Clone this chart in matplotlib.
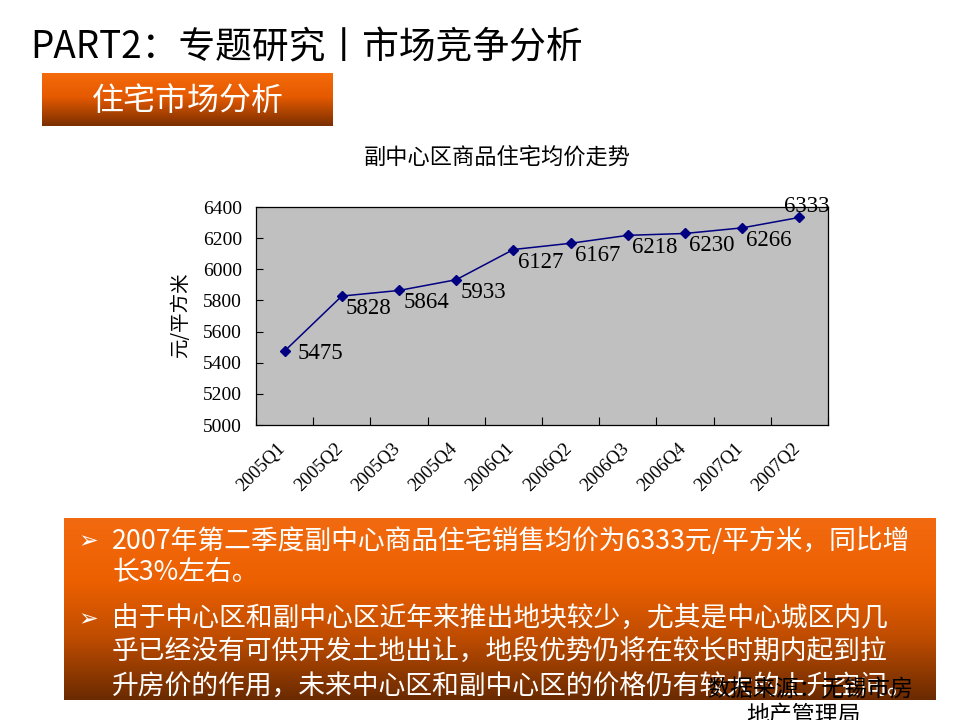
import numpy as np
import matplotlib
matplotlib.use("Agg")
import matplotlib.pyplot as plt
from matplotlib.colors import LinearSegmentedColormap

plt.rcParams['font.family'] = ['Noto Sans CJK SC', 'DejaVu Sans']

quarters = ['2005Q1', '2005Q2', '2005Q3', '2005Q4', '2006Q1',
            '2006Q2', '2006Q3', '2006Q4', '2007Q1', '2007Q2']
prices = [5475, 5828, 5864, 5933, 6127, 6167, 6218, 6230, 6266, 6333]
yticks = [5000, 5200, 5400, 5600, 5800, 6000, 6200, 6400]

bullets = [
    ['2007年第二季度副中心商品住宅销售均价为6333元/平方米，同比增',
     '长3%左右。'],
    ['由于中心区和副中心区近年来推出地块较少，尤其是中心城区内几',
     '乎已经没有可供开发土地出让，地段优势仍将在较长时期内起到拉',
     '升房价的作用，未来中心区和副中心区的价格仍有较大的上升空间。'],
]

W, H = 960, 720
fig = plt.figure(figsize=(9.6, 7.2), dpi=100)
fig.patch.set_facecolor('white')


def px_box(x0, y0, x1, y1):
    return [x0 / W, 1 - y1 / H, (x1 - x0) / W, (y1 - y0) / H]


def gradient_box(rect, stops):
    ax = fig.add_axes(px_box(*rect))
    cmap = LinearSegmentedColormap.from_list('g', stops)
    grad = np.linspace(0, 1, 256).reshape(-1, 1)
    ax.imshow(grad, aspect='auto', cmap=cmap, extent=[0, 1, 1, 0])
    ax.set_xlim(0, 1)
    ax.set_ylim(1, 0)
    ax.axis('off')
    return ax


# title
fig.text(30 / W, 1 - 48 / H, 'PART2：专题研究丨市场竞争分析', fontsize=26.5,
         va='center', ha='left', color='black')

# header box
hb = gradient_box((42, 73, 333, 126),
                  [(0, '#f56a0a'), (0.45, '#e55a00'), (1, '#7a2e00')])
hb.text(0.5, 0.47, '住宅市场分析', fontsize=23, color='white',
        ha='center', va='center', transform=hb.transAxes)

# chart title
fig.text(497 / W, 1 - 157 / H, '副中心区商品住宅均价走势', fontsize=16,
         ha='center', va='center')

# chart
ax = fig.add_axes(px_box(256, 207, 828, 425))
ax.set_facecolor('#c0c0c0')
x = np.arange(len(quarters))
ax.plot(x, prices, color='#000080', marker='D', markersize=5.5, linewidth=1.1)
ax.set_xlim(-0.5, len(quarters) - 0.5)
ax.set_ylim(5000, 6400)
ax.set_yticks(yticks)
ax.set_yticklabels([str(v) for v in yticks], family='Liberation Serif', fontsize=14)
ax.set_xticks(np.arange(len(quarters) + 1) - 0.5)
ax.set_xticklabels([])
ax.tick_params(axis='both', direction='in', length=5, width=0.8, color='black')
ax.tick_params(axis='y', pad=10)
ax.tick_params(axis='x', length=6)
for s in ax.spines.values():
    s.set_color('black')
    s.set_linewidth(0.9)
for i, q in enumerate(quarters):
    ax.annotate(q, (i, 5000), xytext=(-5.5, -11), textcoords='offset points',
                rotation=45, rotation_mode='anchor', ha='right', va='top',
                family='Liberation Serif', fontsize=13.5, annotation_clip=False)

offsets = [(9, -2)] + [(3, -9)] * 8 + [(5, 8)]
for i, v in enumerate(prices):
    dx, dy = offsets[i]
    ha = 'center' if i == len(prices) - 1 else 'left'
    ax.annotate(str(v), (i, v), xytext=(dx, dy), textcoords='offset points',
                ha=ha, va='center', family='Liberation Serif', fontsize=16.5,
                annotation_clip=False)

fig.text(181 / W, 1 - 315 / H, '元/平方米', rotation=90, fontsize=14,
         ha='center', va='center')

# bottom box
bb = gradient_box((64, 518, 936, 700),
                  [(0, '#f26a10'), (0.35, '#ec6000'), (0.65, '#c04d00'), (1, '#6a2a00')])
line_y = [[541, 573], [619, 651, 686]]
for group, ys in zip(bullets, line_y):
    fig.text(78 / W, 1 - ys[0] / H, '➢', family=['DejaVu Sans'], fontsize=17,
             fontweight='bold', color='white', ha='left', va='center')
    for txt, yy in zip(group, ys):
        fig.text(112 / W, 1 - yy / H, txt, fontsize=19.3, color='white',
                 ha='left', va='center')

fig.text(810 / W, 1 - 690 / H, '数据来源：无锡市房', fontsize=16.5, color='black',
         ha='center', va='center')
fig.text(803 / W, 1 - 716 / H, '地产管理局', fontsize=16.5, color='black',
         ha='center', va='center')

fig.savefig('out.png', dpi=100)
